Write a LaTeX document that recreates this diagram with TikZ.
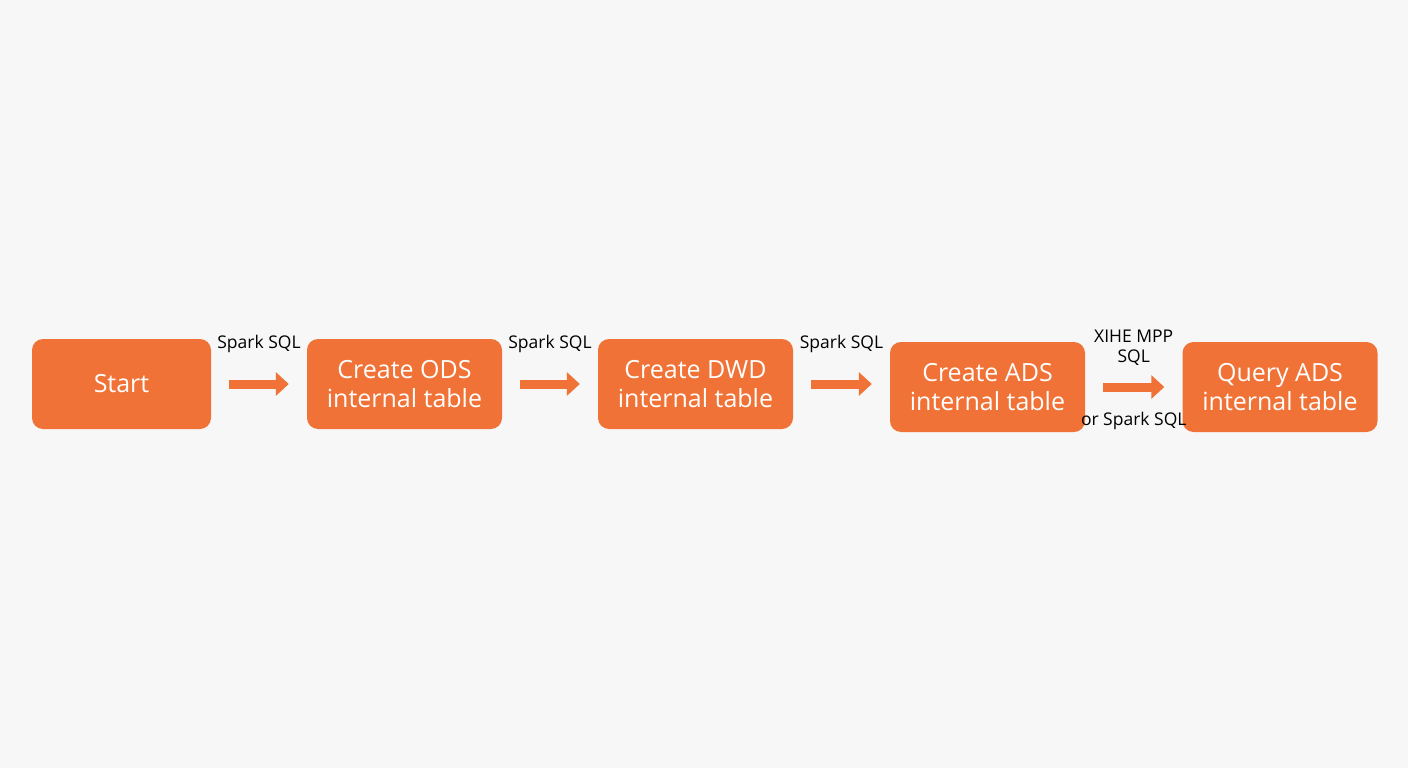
\documentclass[tikz,border=0pt]{standalone}
\usepackage{fontspec}
\setmainfont{Open Sans}
\usepackage{tikz}
\usetikzlibrary{arrows.meta, positioning}
\definecolor{stepOrange}{RGB}{241, 114, 54}
\definecolor{paperGray}{RGB}{247, 247, 247}

\begin{document}
\begin{tikzpicture}[
      x=1pt, y=-1pt,
      stage/.style={
        rectangle, fill=stepOrange, draw=none, text=white,
        rounded corners=11pt, minimum height=90pt, minimum width=195pt,
        font=\fontsize{25}{29}\selectfont, align=center, inner sep=0pt
      },
      flow/.style={-{Triangle[length=13pt, width=23pt]}, stepOrange,
        line width=9pt, shorten <=18pt, shorten >=18pt},
      tool/.style={font=\fontsize{17.5}{20}\selectfont, text=black, align=center},
    ]
      \useasboundingbox[fill=paperGray] (0,0) rectangle (1408,768);

      \node[stage, minimum width=179pt] (start) at (121.5,384) {Start};
      \node[stage] (ods)   at (404.5,384) {Create ODS\\internal table};
      \node[stage] (dwd)   at (695.5,384) {Create DWD\\internal table};
      \node[stage] (ads)   at (987.5,387) {Create ADS\\internal table};
      \node[stage] (query) at (1280,387)  {Query ADS\\internal table};

      \foreach \i/\j in {start/ods, ods/dwd} {
        \draw[flow] (\i) -- node[tool, above=23pt] {Spark SQL} (\j);
      }
      \draw[flow] (dwd.east) -- node[tool, above=23pt] {Spark SQL} (dwd.east -| ads.west);

      % last hop has two engines
      \draw[flow] (ads) -- node[tool, above=14pt] {XIHE MPP\\SQL}
        node[tool, below=17pt] {or Spark SQL} (query);
    \end{tikzpicture}
\end{document}
